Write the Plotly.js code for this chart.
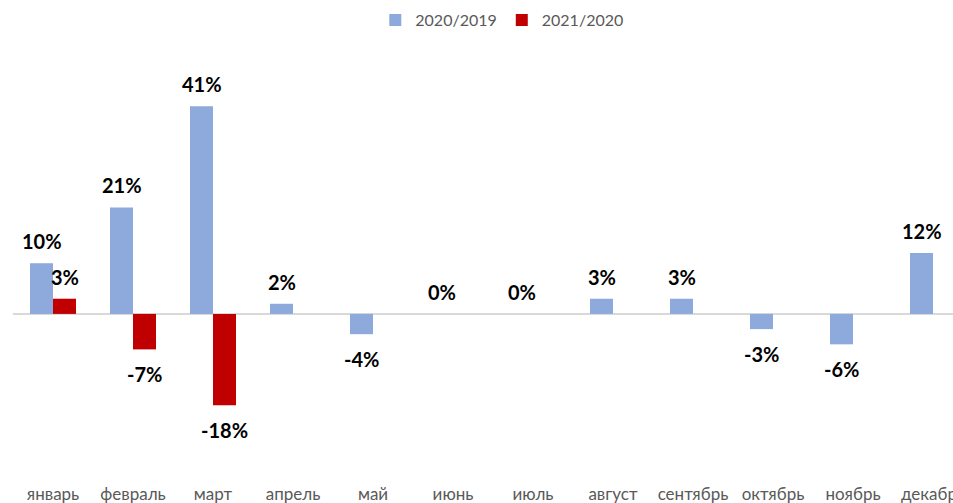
<!DOCTYPE html>
<html>
<head>
<meta charset="utf-8">
<script src="https://cdn.plot.ly/plotly-3.0.1.min.js"></script>
<style>html,body{margin:0;padding:0;background:#fff;}#chart{width:953px;height:503px;}</style>
</head>
<body>
<div id="chart"></div>
<script>
const months = ['январь','февраль','март','апрель','май','июнь','июль','август','сентябрь','октябрь','ноябрь','декабрь'];
const series1Name = '2020/2019';
const series2Name = '2021/2020';
const values2020 = [10, 21, 41, 2, -4, 0, 0, 3, 3, -3, -6, 12];
const values2021 = [3, -7, -18, null, null, null, null, null, null, null, null, null];

const blue = '#8EA9DB';
const red = '#C00000';

const traces = [
  {type:'bar', name: series1Name, x: months, y: values2020, marker:{color: blue}, hoverinfo:'none'},
  {type:'bar', name: series2Name, x: months, y: values2021, marker:{color: red}, hoverinfo:'none'}
];

const annotations = [];
function addLabels(vals, xshift) {
  vals.forEach((v, i) => {
    if (v === null) return;
    annotations.push({
      x: months[i], y: v, xref:'x', yref:'y',
      text: v + '%', showarrow:false,
      xshift: xshift, yshift: v < 0 ? -25 : 22,
      font:{family:'Lato, "Open Sans", sans-serif', size:20, color:'#000', weight:'bold'}
    });
  });
}
addLabels(values2020, -11.5);
addLabels(values2021, 11.5);

const layout = {
  width: 953, height: 503,
  margin:{l:13, r:0, t:59, b:34},
  paper_bgcolor:'#fff', plot_bgcolor:'#fff',
  barmode:'group', bargap:0.425, bargroupgap:0,
  showlegend:true,
  legend:{orientation:'h', x:0.52, xanchor:'center', y:1.095, yanchor:'middle',
    font:{family:'Lato, "Open Sans", sans-serif', size:16, color:'#595959'}, itemwidth:30, traceorder:'normal'},
  xaxis:{type:'category', range:[-0.5, 11.25], showgrid:false, zeroline:false, showline:false,
    ticks:'', ticklabelstandoff:13,
    tickfont:{family:'Lato, "Open Sans", sans-serif', size:17, color:'#595959'}, fixedrange:true},
  yaxis:{range:[-30.6, 50.3], showgrid:false, zeroline:true, zerolinecolor:'#D9D9D9', zerolinewidth:1.5,
    showticklabels:false, showline:false, ticks:'', fixedrange:true},
  annotations: annotations
};

Plotly.newPlot('chart', traces, layout, {displayModeBar:false, staticPlot:true});
</script>
</body>
</html>
